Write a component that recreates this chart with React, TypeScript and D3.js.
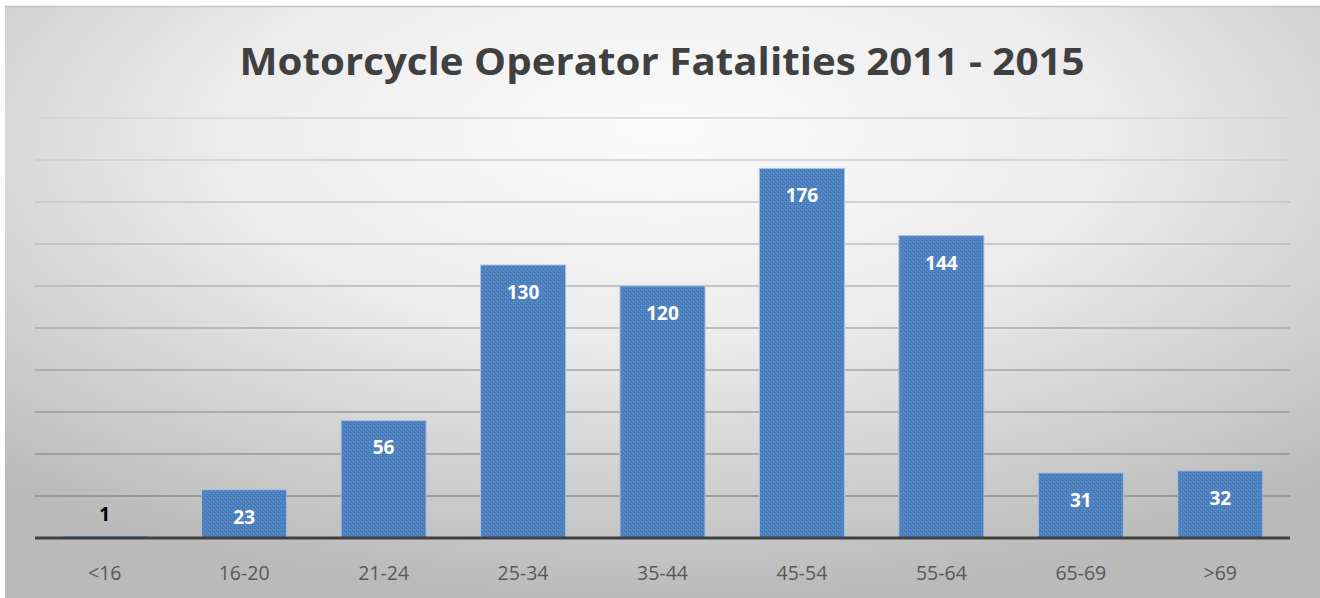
import React from 'react';
import * as d3 from 'd3';

const categories = ['<16', '16-20', '21-24', '25-34', '35-44', '45-54', '55-64', '65-69', '>69'];
const fatalities = [1, 23, 56, 130, 120, 176, 144, 31, 32];
const gridTicks = [20, 40, 60, 80, 100, 120, 140, 160, 180, 200];
const title = 'Motorcycle Operator Fatalities 2011 - 2015';

const App = () => {
    const width = 1320;
    const height = 598;
    const margin = { top: 118, right: 30, bottom: 60, left: 35 };
    const plotRight = 1290;
    const baseline = 538;

    const x = d3.scaleBand<string>()
        .domain(categories)
        .range([margin.left, plotRight])
        .paddingInner(0.39)
        .paddingOuter(0.195);

    const y = d3.scaleLinear()
        .domain([0, 200])
        .range([baseline, margin.top]);

    // gridlines get darker toward the bottom of the chart
    const gridColor = d3.scaleLinear<string>()
        .domain([200, 20])
        .range(['#d6d6d6', '#8c8c8c']);

    const font = '"Open Sans", "DejaVu Sans", sans-serif';

    return (
        <svg width={width} height={height} style={{ position: 'absolute', left: 0, top: 0 }}>
            <defs>
                <radialGradient id="bg" cx="50%" cy="25%" r="75%" fx="50%" fy="20%">
                    <stop offset="0%" stopColor="#fbfbfb" />
                    <stop offset="45%" stopColor="#ececec" />
                    <stop offset="100%" stopColor="#bababa" />
                </radialGradient>
                <pattern id="dots" width="4" height="4" patternUnits="userSpaceOnUse">
                    <rect width="4" height="4" fill="#4a7ebd" />
                    <rect x="1" y="1" width="1" height="1" fill="#7ea3d3" />
                    <rect x="3" y="3" width="1" height="1" fill="#6890c8" />
                </pattern>
            </defs>
            <rect x={0} y={0} width={width} height={height} fill="#ffffff" />
            <rect x={5} y={6} width={width - 5} height={height - 6} fill="url(#bg)" />
            <line x1={5} x2={width} y1={6.5} y2={6.5} stroke="#c4c4c4" strokeWidth={1.5} />

            <text x={662} y={75} textAnchor="middle" fontFamily={font} fontWeight="bold"
                fontSize={37} fill="#404040" textLength={845} lengthAdjust="spacingAndGlyphs">
                {title}
            </text>

            {gridTicks.map(t => (
                <line key={t} x1={margin.left} x2={plotRight} y1={y(t)} y2={y(t)}
                    stroke={gridColor(t)} strokeWidth={1.5} />
            ))}

            {categories.map((c, i) => {
                const v = fatalities[i];
                const top = y(v);
                const inside = baseline - top > 40;
                return (
                    <g key={c}>
                        <rect x={x(c)} y={top} width={x.bandwidth()} height={baseline - top}
                            fill="url(#dots)" stroke="#a9c1e2" strokeWidth={1} />
                        <text x={(x(c) ?? 0) + x.bandwidth() / 2} y={inside ? top + 34 : baseline - 17}
                            textAnchor="middle" fontFamily={font} fontWeight="bold" fontSize={19}
                            fill={inside ? '#ffffff' : '#000000'}>
                            {v}
                        </text>
                        <text x={(x(c) ?? 0) + x.bandwidth() / 2} y={580} textAnchor="middle"
                            fontFamily={font} fontSize={19.5} fill="#595959">
                            {c}
                        </text>
                    </g>
                );
            })}

            <line x1={margin.left} x2={plotRight} y1={baseline} y2={baseline} stroke="#404040" strokeWidth={3} />
        </svg>
    );
};

export default App;
